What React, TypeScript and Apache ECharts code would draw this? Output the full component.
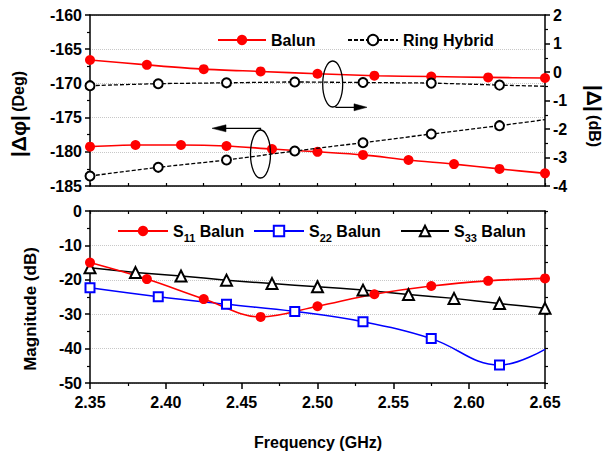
import React, { useEffect, useRef } from "react";
import * as echarts from "echarts";

// ---- data ----
const freqStep03 = [2.35, 2.38, 2.41, 2.44, 2.47, 2.5, 2.53, 2.56, 2.59, 2.62, 2.65];
const freqStep0375 = [2.35, 2.3875, 2.425, 2.4625, 2.5, 2.5375, 2.575, 2.6125, 2.65];
const freqStep045 = [2.35, 2.395, 2.44, 2.485, 2.53, 2.575, 2.62, 2.65];

const balunPhase = [-179.25, -179.0, -179.0, -179.15, -179.6, -180.0, -180.45, -181.2, -181.8, -182.5, -183.15];
const balunAmp = [0.42, 0.25, 0.1, 0.02, -0.06, -0.13, -0.16, -0.19, -0.21];
const ringPhase = [-183.54, -182.27, -181.2, -179.88, -178.67, -177.4, -176.18, -175.3];
const ringAmp = [-0.48, -0.41, -0.38, -0.35, -0.37, -0.39, -0.46, -0.5];

const s11Balun = [-15.0, -19.8, -25.6, -30.8, -27.7, -24.2, -21.8, -20.3, -19.6];
const s22Balun = [-22.3, -24.9, -27.1, -29.2, -32.2, -37.1, -44.8, -40.2];
const s33Balun = [-16.5, -17.9, -18.9, -20.1, -21.1, -22.0, -23.0, -24.3, -25.4, -26.9, -28.3];

const phaseTicks = { min: -185, max: -160, interval: 5 };
const ampTicks = { min: -4, max: 2, interval: 1 };
const magTicks = { min: -50, max: 0, interval: 10 };
const freqTicks = { min: 2.35, max: 2.65, interval: 0.05 };

const legendTop = ["Balun", "Ring Hybrid"];
const legendBottom = ["S11 Balun", "S22 Balun", "S33 Balun"];

const FF = '"Liberation Sans", Arial, Helvetica, sans-serif';

// pair x/y; the final point of the 0.045-spaced sets carries no marker
const zip = (xs: number[], ys: number[], lastNoSymbol = false) =>
  xs.map((x, i) =>
    lastNoSymbol && i === xs.length - 1
      ? { value: [x, ys[i]], symbol: "none", symbolSize: 0, itemStyle: { opacity: 0 } }
      : [x, ys[i]]
  );

export default function App() {
  const ref = useRef<HTMLDivElement>(null);

  useEffect(() => {
    if (!ref.current) return;
    const chart = echarts.init(ref.current, null, { renderer: "svg" });

    const labelStyle = { color: "#000", fontFamily: FF, fontWeight: "bold" as const, fontSize: 16 };
    const axisLine = { show: true, onZero: false, lineStyle: { color: "#000", width: 1.5 } };
    const grids = [
      { left: 90, right: 61, top: 15, height: 171 },
      { left: 90, right: 61, top: 211, height: 172 },
    ];

    const xBase = {
      type: "value" as const,
      min: freqTicks.min,
      max: freqTicks.max,
      splitLine: { show: false },
      axisLine,
    };

    const option: any = {
      animation: false,
      backgroundColor: "#fff",
      grid: grids,
      xAxis: [
        {
          ...xBase,
          gridIndex: 0,
          position: "bottom",
          interval: 0.025,
          axisLabel: { show: false },
          axisTick: { show: true, inside: true, length: 3, lineStyle: { color: "#000", width: 1.2 } },
        },
        {
          ...xBase,
          gridIndex: 0,
          position: "top",
          interval: 0.05,
          axisLabel: { show: false },
          axisTick: { show: false },
        },
        {
          ...xBase,
          gridIndex: 1,
          position: "bottom",
          interval: freqTicks.interval,
          axisLabel: {
            ...labelStyle,
            margin: 11,
            formatter: (v: number) => v.toFixed(2),
          },
          axisTick: { show: true, inside: false, length: 6, lineStyle: { color: "#000", width: 1.5 } },
          minorTick: { show: true, splitNumber: 2, length: 3, lineStyle: { color: "#000", width: 1.2 } },
        },
        {
          ...xBase,
          gridIndex: 1,
          position: "top",
          interval: 0.025,
          axisLabel: { show: false },
          axisTick: { show: true, inside: true, length: 3, lineStyle: { color: "#000", width: 1.2 } },
        },
      ],
      yAxis: [
        {
          type: "value",
          gridIndex: 0,
          position: "left",
          ...phaseTicks,
          axisLine,
          axisLabel: { ...labelStyle, margin: 8 },
          axisTick: { show: true, length: 5, lineStyle: { color: "#000", width: 1.5 } },
          minorTick: { show: true, splitNumber: 2, length: 3, lineStyle: { color: "#000", width: 1.2 } },
          splitLine: { show: true, lineStyle: { color: "#c8c8c8", type: "dotted", width: 1 } },
        },
        {
          type: "value",
          gridIndex: 0,
          position: "right",
          ...ampTicks,
          axisLine,
          axisLabel: { ...labelStyle, margin: 8 },
          axisTick: { show: true, length: 5, lineStyle: { color: "#000", width: 1.5 } },
          minorTick: { show: true, splitNumber: 2, length: 3, lineStyle: { color: "#000", width: 1.2 } },
          splitLine: { show: false },
        },
        {
          type: "value",
          gridIndex: 1,
          position: "left",
          ...magTicks,
          axisLine,
          axisLabel: { ...labelStyle, margin: 8 },
          axisTick: { show: true, length: 5, lineStyle: { color: "#000", width: 1.5 } },
          minorTick: { show: true, splitNumber: 2, length: 3, lineStyle: { color: "#000", width: 1.2 } },
          splitLine: { show: true, lineStyle: { color: "#c8c8c8", type: "dotted", width: 1 } },
        },
        {
          type: "value",
          gridIndex: 1,
          position: "right",
          ...magTicks,
          axisLine,
          axisLabel: { show: false },
          axisTick: { show: true, length: 3, lineStyle: { color: "#000", width: 1.2 } },
          minorTick: { show: true, splitNumber: 2, length: 3, lineStyle: { color: "#000", width: 1.2 } },
          splitLine: { show: false },
        },
      ],
      legend: [
        { name: legendTop[0], left: 217, itemWidth: 48 },
        { name: legendTop[1], left: 347, itemWidth: 50 },
        { name: legendBottom[0], left: 117, itemWidth: 50 },
        { name: legendBottom[1], left: 253, itemWidth: 50 },
        { name: legendBottom[2], left: 400, itemWidth: 48 },
      ].map((l, i) => {
        const isBottom = i >= 2;
        return {
          data: [l.name],
          left: l.left,
          top: isBottom ? 223 : 32,
          itemWidth: l.itemWidth,
          itemHeight: 13,
          padding: 0,
          selectedMode: false,
          formatter: isBottom
            ? (name: string) => {
                const m = name.match(/^S(\d+) (.*)$/);
                return m ? `{n|S}{s|${m[1]}}{n| ${m[2]}}` : name;
              }
            : undefined,
          textStyle: {
            ...labelStyle,
            rich: isBottom
              ? {
                  n: { fontFamily: FF, fontWeight: "bold", fontSize: 16, color: "#000", lineHeight: 24, verticalAlign: "middle" },
                  s: { fontFamily: FF, fontWeight: "bold", fontSize: 11, color: "#000", lineHeight: 24, verticalAlign: "bottom" },
                }
              : undefined,
          },
        };
      }),
      series: [
        {
          name: "Ring Hybrid",
          type: "line",
          xAxisIndex: 0,
          yAxisIndex: 0,
          data: zip(freqStep045, ringPhase, true),
          symbol: "emptyCircle",
          symbolSize: 9,
          smooth: 0.2,
          lineStyle: { color: "#000", width: 1.3, type: [4, 2] },
          itemStyle: { color: "#000", borderWidth: 1.2 },
          z: 3,
        },
        {
          name: "Ring Hybrid",
          type: "line",
          xAxisIndex: 0,
          yAxisIndex: 1,
          data: zip(freqStep045, ringAmp, true),
          symbol: "emptyCircle",
          symbolSize: 9,
          smooth: 0.2,
          lineStyle: { color: "#000", width: 1.3, type: [4, 2] },
          itemStyle: { color: "#000", borderWidth: 1.2 },
          z: 3,
        },
        {
          name: "Balun",
          type: "line",
          xAxisIndex: 0,
          yAxisIndex: 0,
          data: zip(freqStep03, balunPhase),
          symbol: "circle",
          symbolSize: 10,
          smooth: 0.3,
          lineStyle: { color: "#ff0000", width: 1.6 },
          itemStyle: { color: "#ff0000" },
          z: 2,
        },
        {
          name: "Balun",
          type: "line",
          xAxisIndex: 0,
          yAxisIndex: 1,
          data: zip(freqStep0375, balunAmp),
          symbol: "circle",
          symbolSize: 10,
          smooth: 0.3,
          lineStyle: { color: "#ff0000", width: 1.6 },
          itemStyle: { color: "#ff0000" },
          z: 2,
        },
        {
          name: "S33 Balun",
          type: "line",
          xAxisIndex: 2,
          yAxisIndex: 2,
          data: zip(freqStep03, s33Balun),
          symbol: "emptyTriangle",
          symbolSize: 11,
          smooth: 0.2,
          lineStyle: { color: "#000", width: 1.5 },
          itemStyle: { color: "#000", borderWidth: 1.2 },
        },
        {
          name: "S22 Balun",
          type: "line",
          xAxisIndex: 2,
          yAxisIndex: 2,
          data: zip(freqStep045, s22Balun, true),
          symbol: "emptyRect",
          symbolSize: 9,
          smooth: 0.4,
          lineStyle: { color: "#0000ff", width: 1.5 },
          itemStyle: { color: "#0000ff", borderWidth: 1.2 },
        },
        {
          name: "S11 Balun",
          type: "line",
          xAxisIndex: 2,
          yAxisIndex: 2,
          data: zip(freqStep0375, s11Balun),
          symbol: "circle",
          symbolSize: 10,
          smooth: 0.35,
          lineStyle: { color: "#ff0000", width: 1.6 },
          itemStyle: { color: "#ff0000" },
        },
      ],
      graphic: [
        // left title of upper panel
        {
          type: "text",
          x: 18,
          y: 114,
          rotation: Math.PI / 2,
          style: {
            text: "{a||Δφ|} {b|(Deg)}",
            align: "center",
            verticalAlign: "middle",
            rich: {
              a: { fontFamily: FF, fontWeight: "bold", fontSize: 21, fill: "#000" },
              b: { fontFamily: FF, fontWeight: "bold", fontSize: 16, fill: "#000" },
            },
          },
        },
        // right title of upper panel
        {
          type: "text",
          x: 594,
          y: 116,
          rotation: -Math.PI / 2,
          style: {
            text: "{a||Δ|} {b|(dB)}",
            align: "center",
            verticalAlign: "middle",
            rich: {
              a: { fontFamily: FF, fontWeight: "bold", fontSize: 21, fill: "#000" },
              b: { fontFamily: FF, fontWeight: "bold", fontSize: 16, fill: "#000" },
            },
          },
        },
        // lower panel y title
        {
          type: "text",
          x: 30,
          y: 309,
          rotation: Math.PI / 2,
          style: {
            text: "Magnitude (dB)",
            align: "center",
            verticalAlign: "middle",
            font: `bold 17px ${FF}`,
            fill: "#000",
          },
        },
        // x title
        {
          type: "text",
          x: 318,
          y: 442,
          style: {
            text: "Frequency (GHz)",
            align: "center",
            verticalAlign: "middle",
            font: `bold 16px ${FF}`,
            fill: "#000",
          },
        },
        // annotation: ellipse + arrow to left axis
        {
          type: "ellipse",
          shape: { cx: 260.5, cy: 154, rx: 10, ry: 24 },
          style: { fill: "none", stroke: "#000", lineWidth: 1.3 },
          z: 10,
        },
        {
          type: "polyline",
          shape: { points: [[260.5, 130], [260.5, 128.3], [224, 128.3]] },
          style: { fill: "none", stroke: "#000", lineWidth: 1.3 },
          z: 10,
        },
        {
          type: "polygon",
          shape: { points: [[212, 128.3], [226, 124.8], [226, 131.8]] },
          style: { fill: "#000", stroke: "#000", lineWidth: 0.5 },
          z: 10,
        },
        // annotation: ellipse + arrow to right axis
        {
          type: "ellipse",
          shape: { cx: 332.7, cy: 84, rx: 10, ry: 23 },
          style: { fill: "none", stroke: "#000", lineWidth: 1.3 },
          z: 10,
        },
        {
          type: "polyline",
          shape: { points: [[336, 106.5], [336, 107.3], [356, 107.3]] },
          style: { fill: "none", stroke: "#000", lineWidth: 1.3 },
          z: 10,
        },
        {
          type: "polygon",
          shape: { points: [[367, 107.3], [354, 103.8], [354, 110.8]] },
          style: { fill: "#000", stroke: "#000", lineWidth: 0.5 },
          z: 10,
        },
      ],
    };

    chart.setOption(option);
    return () => chart.dispose();
  }, []);

  return (
    <div
      ref={ref}
      style={{ position: "fixed", left: 0, top: 0, width: 606, height: 459, background: "#fff" }}
    />
  );
}
